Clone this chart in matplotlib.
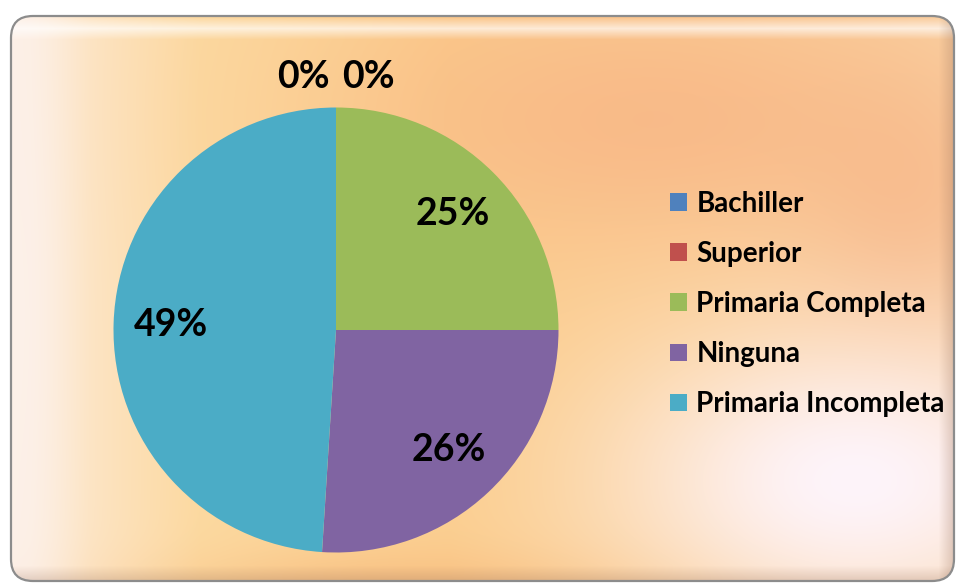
import numpy as np
import matplotlib.pyplot as plt
from matplotlib.patches import FancyBboxPatch

plt.rcParams['font.family'] = ['Lato', 'DejaVu Sans']

categorias = ['Bachiller', 'Superior', 'Primaria Completa', 'Ninguna', 'Primaria Incompleta']
valores = [0, 0, 25, 26, 49]
colores = ['#4F81BD', '#C0504D', '#9BBB59', '#8064A2', '#4BACC6']

W, H = 960, 585
fig = plt.figure(figsize=(W / 100, H / 100), dpi=100)
ax = fig.add_axes([0, 0, 1, 1])


# warm gradient fill for the chart area
def fondo():
    yy, xx = np.mgrid[0:H, 0:W].astype(float)
    xs = [0, 30, 90, 200, 450, 700, 960]
    cols = np.array([[253, 240, 232], [253, 238, 225], [253, 228, 195],
                     [252, 217, 160], [251, 205, 140], [251, 208, 150],
                     [250, 212, 165]], float)
    img = np.stack([np.interp(xx, xs, cols[:, k]) for k in range(3)], -1)

    def mancha(cx, cy, sx, sy, col, fuerza):
        w = fuerza * np.exp(-(((xx - cx) / sx) ** 2 + ((yy - cy) / sy) ** 2))
        return img * (1 - w[..., None]) + np.array(col, float) * w[..., None]

    img = mancha(660, 120, 300, 130, (248, 178, 132), 0.7)
    img = mancha(910, 220, 110, 140, (246, 170, 125), 0.45)
    img = mancha(855, 480, 240, 150, (254, 244, 250), 1.0)
    img = mancha(380, 585, 220, 35, (246, 178, 118), 0.45)
    img = mancha(30, 300, 40, 400, (253, 242, 238), 0.5)
    # glossy band along the top
    brillo = np.clip(1 - np.abs(yy - 28) / 11, 0, 1) * 0.65
    img = img * (1 - brillo[..., None]) + 255 * brillo[..., None]
    # soft shading near the right and bottom edges
    sombra = np.clip((xx - 938) / 18, 0, 1) * 0.35 + np.clip((yy - 565) / 18, 0, 1) * 0.3
    img = img * (1 - sombra[..., None]) + np.array([150, 110, 90.]) * sombra[..., None]
    return np.clip(img, 0, 255).astype(np.uint8)


marco = FancyBboxPatch((11, 4), 943, 565, boxstyle='round,pad=0,rounding_size=22',
                       facecolor='none', edgecolor='#8c8c8c', linewidth=1.6, zorder=3)
ax.add_patch(marco)
im = ax.imshow(fondo(), extent=(0, W, 0, H), origin='upper', zorder=0)
im.set_clip_path(marco)

centro = (336, 255)
radio = 222.5
cunas, textos, pcts = ax.pie(valores, colors=colores, startangle=90, counterclock=False,
                             center=centro, radius=radio, autopct='%.0f%%',
                             pctdistance=0.74, frame=True,
                             textprops=dict(fontsize=27, fontweight='bold', color='black'))
for c in cunas:
    c.set_zorder(2)
for t in pcts:
    t.set_zorder(4)

# zero-value labels sit just above the top of the pie, side by side
ceros = [i for i, v in enumerate(valores) if v == 0]
for j, i in enumerate(ceros):
    lado = -1 if j == 0 else 1
    pcts[i].set_position((centro[0] + lado * 0.145 * radio, centro[1] + 1.135 * radio))

ax.set_xlim(0, W)
ax.set_ylim(0, H)
ax.set_aspect('equal')
ax.axis('off')

ax.legend(cunas, categorias, loc='center left', bbox_to_anchor=(659 / W, (H - 304) / H),
          frameon=False, handlelength=0.6, handleheight=0.6,
          handletextpad=0.35, labelspacing=0.87, borderaxespad=0,
          prop=dict(size=20, weight='bold'))

fig.savefig('out.png', dpi=100)
